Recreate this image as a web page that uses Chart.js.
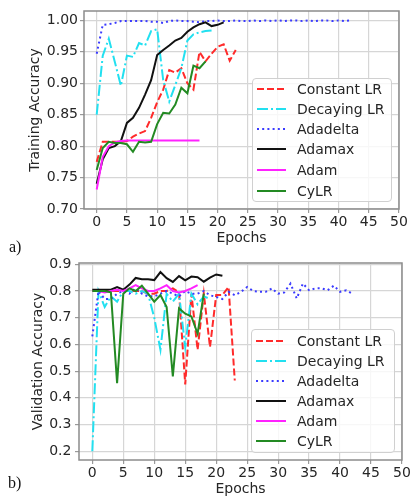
<!DOCTYPE html>
<html><head><meta charset="utf-8">
<script src="https://cdn.jsdelivr.net/npm/chart.js@4.4.1/dist/chart.umd.min.js"></script>
<style>
html,body{margin:0;padding:0;background:#fff;}
body{width:410px;height:501px;position:relative;overflow:hidden;font-family:'DejaVu Sans',sans-serif;}
.wrap{position:absolute;left:0;width:410px;}
.legend{position:absolute;background:rgba(255,255,255,0.8);border:1px solid #d0d0d0;border-radius:4px;box-sizing:border-box;}
.row{position:absolute;left:0;height:20px;width:100%;}
.row svg{position:absolute;top:0;}
.row span{position:absolute;font-size:14px;line-height:20px;color:#262626;white-space:nowrap;top:0;}
.tag{position:absolute;font-family:'Liberation Serif',serif;font-size:16px;line-height:16px;color:#111;}
</style></head><body>
<div class="wrap" style="top:0;height:250px"><canvas id="ca" width="410" height="250"></canvas></div>
<div class="wrap" style="top:250px;height:251px"><canvas id="cb" width="410" height="251"></canvas></div>
<div class="tag" style="left:9px;top:239px">a)</div>
<div class="tag" style="left:8px;top:475px">b)</div>
<div id="lega" class="legend" style="left:252px;top:78px;width:140px;height:124px"></div>
<div id="legb" class="legend" style="left:251px;top:329px;width:144px;height:124px"></div>
<script>
// ---------- data ----------
const seriesNames = ['Constant LR','Decaying LR','Adadelta','Adamax','Adam','CyLR'];
const epochTicks = [0,5,10,15,20,25,30,35,40,45,50];
const trainTicks = [0.70,0.75,0.80,0.85,0.90,0.95,1.00];
const valTicks = [0.2,0.3,0.4,0.5,0.6,0.7,0.8,0.9];

// (a) training accuracy, one value per epoch starting at 0
const trainConstantLR = [0.775,0.807,0.807,0.807,0.807,0.808,0.815,0.820,0.824,0.845,0.870,0.890,0.921,0.917,0.924,0.900,0.890,0.950,0.935,0.947,0.958,0.962,0.936,0.953];
const trainDecayingLR = [0.850,0.944,0.971,0.934,0.896,0.944,0.942,0.964,0.960,0.983,0.986,0.905,0.871,0.897,0.924,0.968,0.978,0.981,0.983,0.984];
const trainAdadelta = [0.947,0.993,0.994,0.996,0.999,0.999,0.999,0.999,0.999,0.998,0.998,0.996,0.999,1.000,0.999,0.999,0.998,0.997,0.999,0.999,1.000,0.999,0.999,1.000,0.999,0.999,1.000,0.999,1.000,0.999,1.000,0.999,1.000,1.000,0.999,1.000,0.999,1.000,1.000,0.999,1.000,0.999,1.000];
const trainAdamax = [0.740,0.779,0.797,0.800,0.808,0.837,0.845,0.861,0.882,0.905,0.945,0.953,0.960,0.968,0.972,0.982,0.989,0.994,0.997,0.991,0.993,0.997];
const trainAdam = [0.731,0.783,0.800,0.806,0.808,0.809,0.809,0.809,0.809,0.809,0.809,0.809,0.809,0.809,0.809,0.809,0.809,0.809];
const trainCyLR = [0.762,0.797,0.807,0.805,0.805,0.803,0.791,0.807,0.806,0.807,0.835,0.853,0.852,0.866,0.893,0.884,0.928,0.924,0.935];

// (b) validation accuracy
const valConstantLR = [0.800,0.805,0.800,0.800,0.800,0.800,0.800,0.800,0.800,0.790,0.790,0.800,0.800,0.810,0.795,0.450,0.790,0.580,0.790,0.590,0.785,0.785,0.815,0.465];
const valDecayingLR = [0.200,0.800,0.740,0.780,0.760,0.800,0.800,0.790,0.800,0.790,0.700,0.580,0.790,0.760,0.790,0.590,0.790,0.750,0.780,0.770];
const valAdadelta = [0.630,0.800,0.770,0.770,0.790,0.800,0.790,0.810,0.790,0.780,0.780,0.790,0.800,0.790,0.780,0.800,0.790,0.790,0.800,0.784,0.778,0.770,0.797,0.784,0.797,0.815,0.800,0.797,0.797,0.810,0.790,0.795,0.828,0.772,0.828,0.803,0.810,0.810,0.803,0.820,0.797,0.803,0.790];
const valAdamax = [0.805,0.805,0.805,0.805,0.815,0.805,0.824,0.849,0.844,0.844,0.841,0.871,0.848,0.834,0.856,0.840,0.854,0.852,0.835,0.850,0.862,0.857];
const valAdam = [0.800,0.800,0.795,0.800,0.805,0.800,0.810,0.822,0.810,0.800,0.800,0.810,0.822,0.800,0.795,0.800,0.810,0.822];
const valCyLR = [0.800,0.800,0.800,0.795,0.455,0.790,0.810,0.800,0.820,0.790,0.760,0.785,0.740,0.480,0.735,0.715,0.705,0.640,0.790];

// ---------- styles ----------
const colors = ['#ff2a2a','#22e0f0','#3a3aff','#111111','#ff22ff','#238a23'];
const dashes = [[7,3],[11,3,2,3],[2,3.2],[],[],[]];

function makeDatasets(arrs){
  return arrs.map((arr,k)=>({
    label: seriesNames[k],
    data: arr.map((v,i)=>({x:i,y:v})),
    borderColor: colors[k],
    backgroundColor: colors[k],
    borderWidth: 2,
    borderDash: dashes[k],
    pointRadius: 0,
    tension: 0,
    fill: false,
    order: arrs.length - k
  }));
}

const framePlugin = {
  id:'frame',
  afterDatasetsDraw(chart){
    const {ctx, chartArea:{left,top,right,bottom}} = chart;
    ctx.save();
    ctx.strokeStyle = '#8c8c8c';
    ctx.lineWidth = 1.5;
    ctx.strokeRect(left, top, right-left, bottom-top);
    ctx.restore();
  }
};

Chart.defaults.font.family = "'DejaVu Sans'";
Chart.defaults.font.size = 14;
Chart.defaults.color = '#262626';

function makeChart(id, arrs, cfg){
  return new Chart(document.getElementById(id), {
    type:'line',
    data:{datasets: makeDatasets(arrs)},
    options:{
      responsive:false, animation:false, devicePixelRatio:1,
      layout:{padding:{left:0,right:cfg.padRight,top:cfg.padTop,bottom:0}},
      plugins:{legend:{display:false}, tooltip:{enabled:false}},
      scales:{
        x:{
          type:'linear', min:cfg.xmin, max:50,
          afterBuildTicks: s => { s.ticks = epochTicks.map(v=>({value:v})); },
          afterFit: s => { s.height = cfg.xh; s.paddingLeft = 0; s.paddingRight = 0; },
          grid:{color:'#d6d6d6', lineWidth:1.2, tickLength:4, tickColor:'#9a9a9a'},
          border:{display:false},
          ticks:{padding:0.5, maxRotation:0, autoSkip:false, callback: v => String(v)},
          title:{display:true, text:'Epochs', padding:{top:0,bottom:3.6}}
        },
        y:{
          type:'linear', min:cfg.ymin, max:cfg.ymax,
          afterBuildTicks: s => { s.ticks = cfg.yticks.map(v=>({value:v})); },
          afterFit: s => { s.width = cfg.yw; s.paddingTop = 0; s.paddingBottom = 0; },
          grid:{color:'#d6d6d6', lineWidth:1.2, tickLength:4, tickColor:'#9a9a9a'},
          border:{display:false},
          ticks:{padding:cfg.ypad, autoSkip:false, callback: v => v.toFixed(cfg.dec)},
          title:{display:true, text:cfg.ytitle, padding:{top:cfg.ytitlePad,bottom:0}}
        }
      }
    },
    plugins:[framePlugin]
  });
}

makeChart('ca', [trainConstantLR,trainDecayingLR,trainAdadelta,trainAdamax,trainAdam,trainCyLR],
  {padRight:11, padTop:11, xmin:-2.1, xh:41, ymin:0.70, ymax:1.015, yticks:trainTicks, yw:84, ypad:2, dec:2, ytitle:'Training Accuracy', ytitlePad:26.6});
makeChart('cb', [valConstantLR,valDecayingLR,valAdadelta,valAdamax,valAdam,valCyLR],
  {padRight:8, padTop:13, xmin:-2.15, xh:41, ymin:0.167, ymax:0.905, yticks:valTicks, yw:79, ypad:3.6, dec:1, ytitle:'Validation Accuracy', ytitlePad:29.9});

// ---------- legends (HTML) ----------
function buildLegend(id, rowTops, sampleLeft, sampleW, textLeft){
  const el = document.getElementById(id);
  seriesNames.forEach((name,k)=>{
    const row = document.createElement('div');
    row.className = 'row';
    row.style.top = (rowTops[k]-10) + 'px';
    const d = dashes[k].length ? `stroke-dasharray="${dashes[k].join(' ')}"` : '';
    row.innerHTML = `<svg width="${sampleW}" height="20" style="left:${sampleLeft}px"><line x1="0" y1="10" x2="${sampleW}" y2="10" stroke="${colors[k]}" stroke-width="2" ${d}/></svg><span style="left:${textLeft}px">${name}</span>`;
    el.appendChild(row);
  });
}
buildLegend('lega', [10,30,50,70,91,112], 4, 29, 44);
buildLegend('legb', [11,31,51,71,91,111], 4, 30, 45);
</script>
</body></html>
